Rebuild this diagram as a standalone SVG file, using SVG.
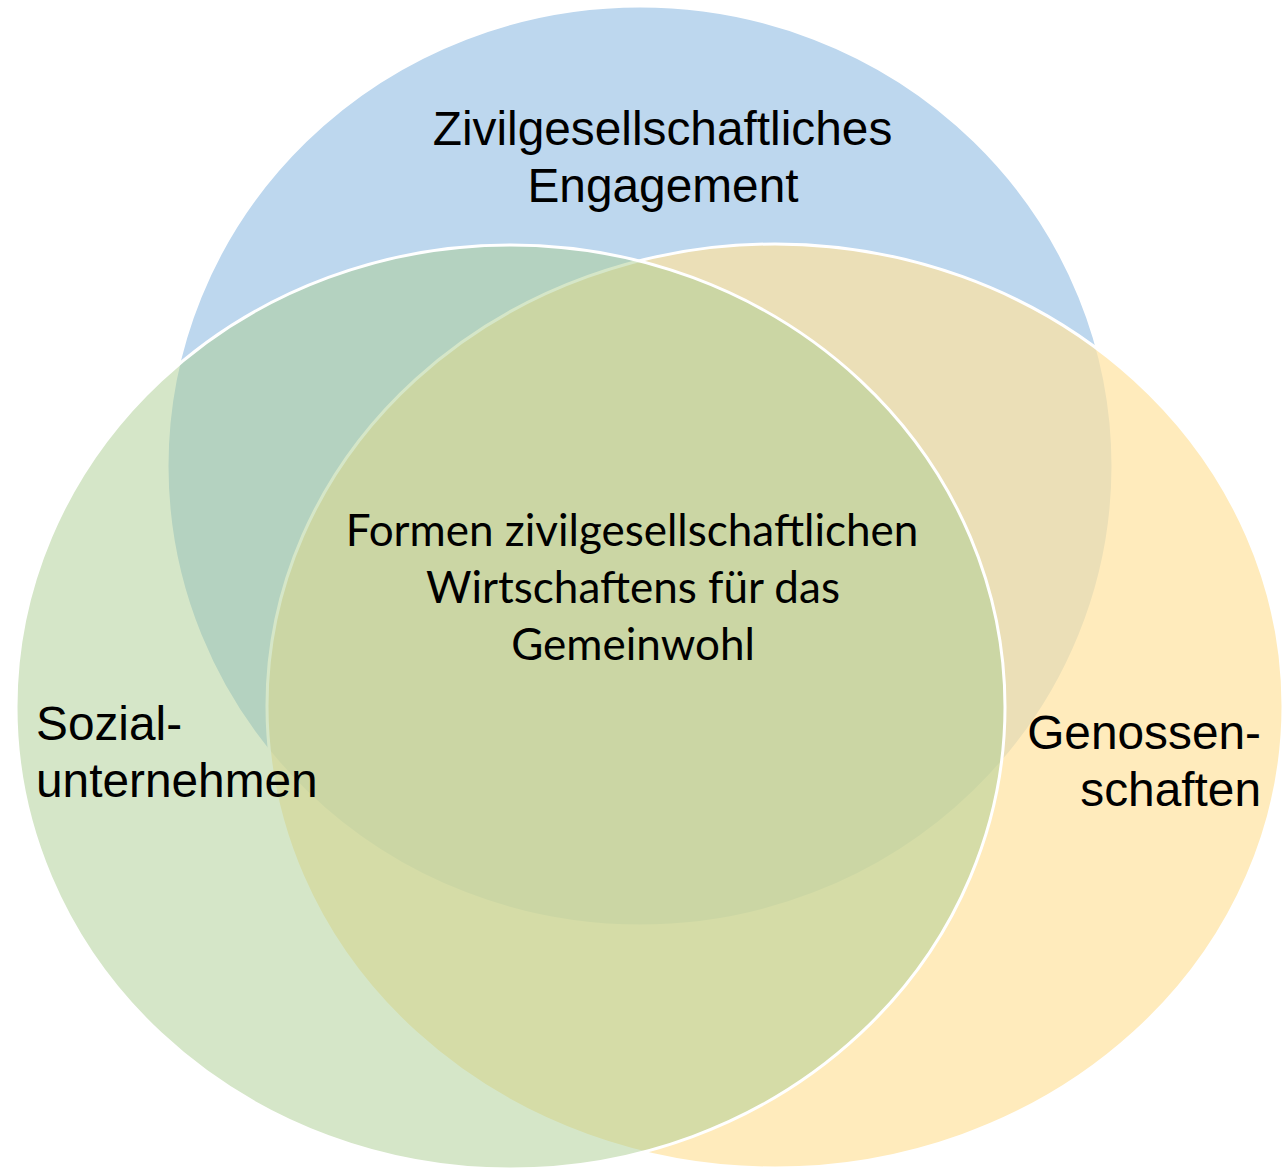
<svg xmlns="http://www.w3.org/2000/svg" width="1283" height="1168" viewBox="0 0 1283 1168">
<style>
.circ{stroke:#FFFFFF;stroke-width:3}
.lbl{font-family:"Liberation Sans",Arial,sans-serif;font-size:47.8px;fill:#000000}
.ctr{font-family:Lato,"Open Sans",sans-serif;font-size:44px;fill:#000000;text-anchor:middle}
</style>
<rect width="1283" height="1168" fill="#FFFFFF"/>
<g id="node-engagement">
<ellipse class="circ" cx="640" cy="466" rx="473" ry="460" fill="#BDD7EE"/>
</g>
<g id="node-genossenschaften">
<ellipse class="circ" cx="775" cy="706" rx="508" ry="462" fill="#FFE29F" fill-opacity="0.7"/>
</g>
<g id="node-sozialunternehmen">
<ellipse class="circ" cx="510.5" cy="707" rx="494.5" ry="462" fill="#ABCD91" fill-opacity="0.5"/>
</g>
<g id="labels">
<text class="lbl" x="662.5" y="145" text-anchor="middle">Zivilgesellschaftliches</text>
<text class="lbl" x="663" y="202" text-anchor="middle">Engagement</text>
<text class="lbl" x="36" y="740">Sozial-</text>
<text class="lbl" x="36" y="797">unternehmen</text>
<text class="lbl" x="1261" y="749" text-anchor="end">Genossen-</text>
<text class="lbl" x="1261" y="806" text-anchor="end">schaften</text>
</g>
<g id="node-center">
<text class="ctr" x="632" y="546">Formen zivilgesellschaftlichen</text>
<text class="ctr" x="633" y="603">Wirtschaftens für das</text>
<text class="ctr" x="633" y="660">Gemeinwohl</text>
</g>
</svg>
